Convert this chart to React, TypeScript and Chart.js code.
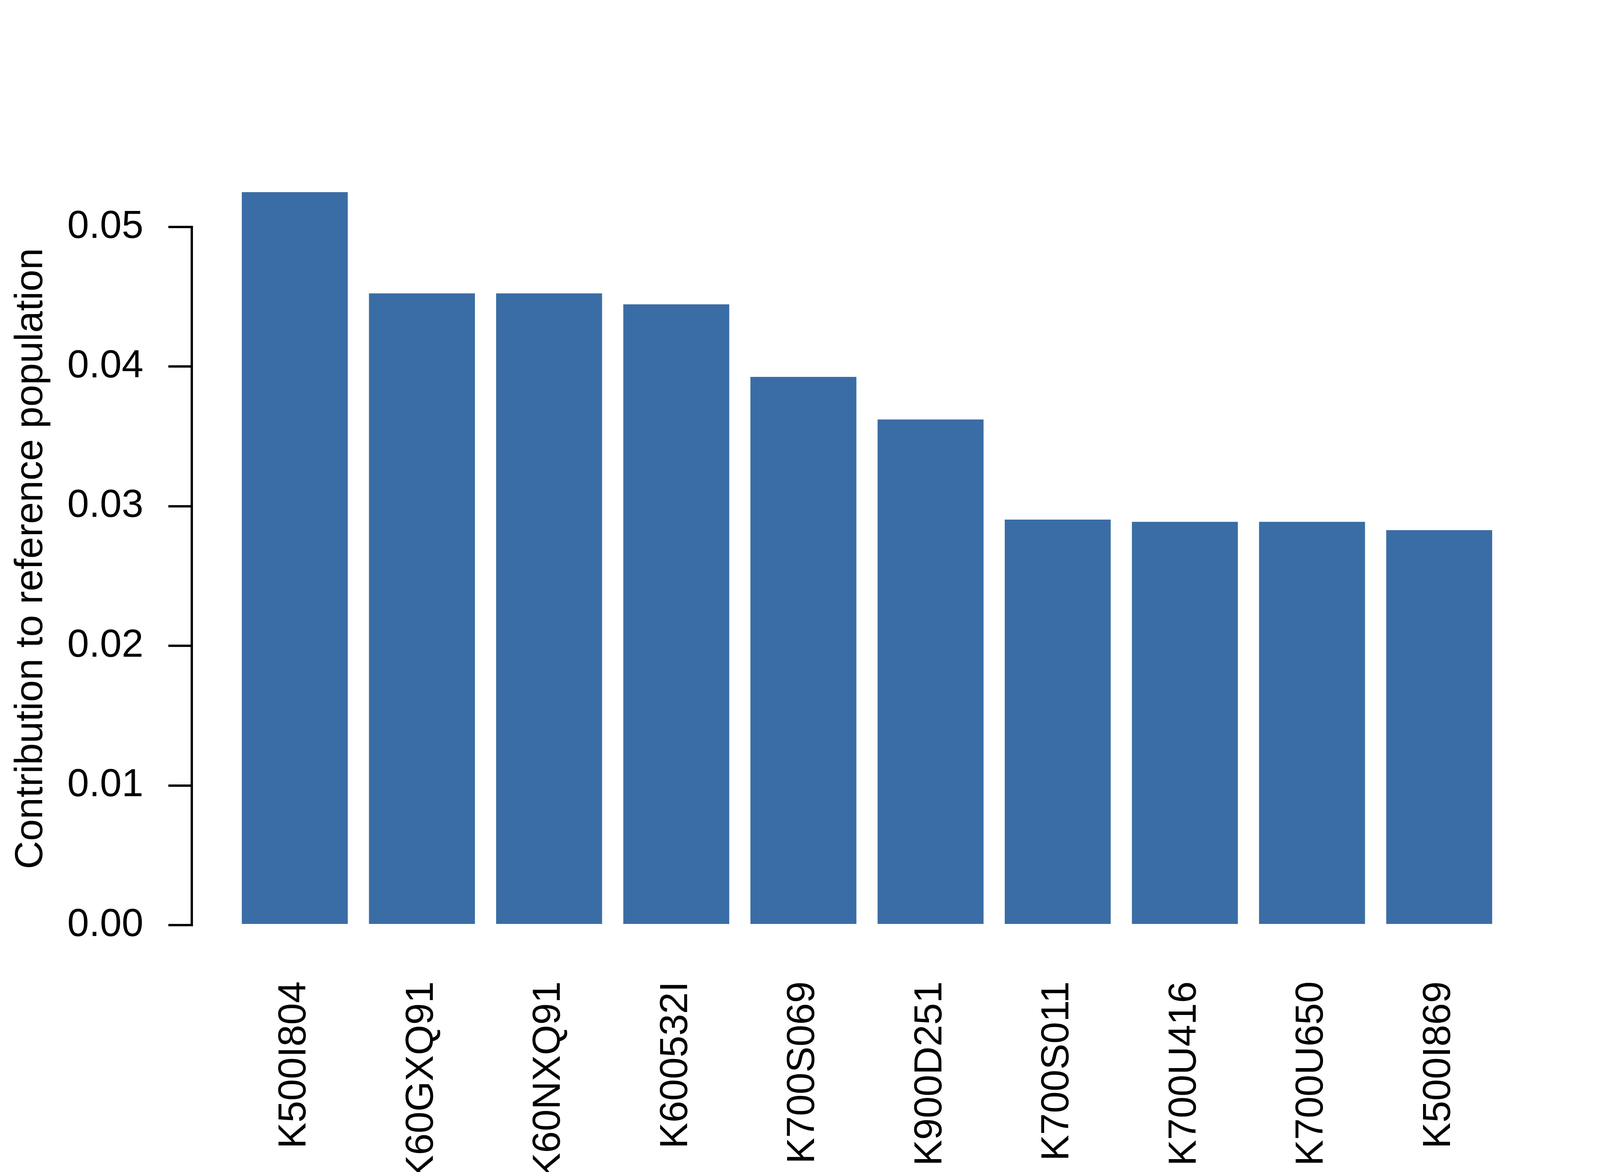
import React, { useEffect, useRef } from 'react';
import { Chart, registerables } from 'chart.js';

Chart.register(...registerables);

// ---- data ----
const categories = [
  'K500I804',
  'K60GXQ91',
  'K60NXQ91',
  'K600532I',
  'K700S069',
  'K900D251',
  'K700S011',
  'K700U416',
  'K700U650',
  'K500I869',
];
const contributions = [0.0525, 0.04524, 0.04524, 0.04446, 0.03926, 0.03621, 0.02904, 0.02888, 0.02888, 0.02829];
const yTickValues = [0, 0.01, 0.02, 0.03, 0.04, 0.05];
const yTickLabels = ['0.00', '0.01', '0.02', '0.03', '0.04', '0.05'];
const yAxisTitle = 'Contribution to reference population';

// R barplot geometry (bar width 1, space 0.2), 4% axis extension
const BAR_W = 1;
const BAR_SPACE = 0.2;
const center = (i: number) => BAR_SPACE + i * (BAR_W + BAR_SPACE) + BAR_W / 2;
const xLo = BAR_SPACE;
const xHi = categories.length * (BAR_W + BAR_SPACE);
const xExt = 0.04 * (xHi - xLo);

const FONT_FAMILY = '"Liberation Sans", Arial, Helvetica, sans-serif';
const FONT_SIZE = 100;
const BAR_COLOR = '#3A6DA5';

// y-axis title centred on the R plot region (ylim = [0, max] extended 4%)
const yTitlePlugin = {
  id: 'rYTitle',
  afterDraw(chart: any) {
    const y = chart.scales.y;
    const ymax = Math.max(...contributions);
    const cy = y.getPixelForValue(ymax / 2);
    const ctx = chart.ctx;
    ctx.save();
    ctx.translate(108, cy);
    ctx.rotate(-Math.PI / 2);
    ctx.font = `${FONT_SIZE}px ${FONT_FAMILY}`;
    ctx.fillStyle = '#000';
    ctx.textAlign = 'center';
    ctx.textBaseline = 'alphabetic';
    ctx.fillText(yAxisTitle, 0, 0);
    ctx.restore();
  },
};

export default function App() {
  const ref = useRef<HTMLCanvasElement | null>(null);

  useEffect(() => {
    document.body.style.margin = '0';
    const canvas = ref.current;
    if (!canvas) return;
    const chart = new Chart(canvas, {
      type: 'bar',
      data: {
        datasets: [
          {
            data: contributions.map((v, i) => ({ x: center(i), y: v })),
            backgroundColor: BAR_COLOR,
            borderWidth: 0,
            categoryPercentage: 1,
            barPercentage: BAR_W / (BAR_W + BAR_SPACE),
            clip: false as any,
          } as any,
        ],
      },
      plugins: [yTitlePlugin],
      options: {
        animation: false,
        responsive: false,
        devicePixelRatio: 1,
        layout: { padding: { top: 581, right: 252, left: 0, bottom: 0 } },
        plugins: {
          legend: { display: false },
          tooltip: { enabled: false },
          title: { display: false },
        },
        scales: {
          x: {
            type: 'linear',
            offset: false,
            min: xLo - xExt,
            max: xHi + xExt,
            bounds: 'data',
            afterBuildTicks: (s: any) => {
              s.ticks = categories.map((_, i) => ({ value: center(i) }));
            },
            afterFit: (s: any) => {
              s.height = 632;
            },
            grid: { display: false, drawTicks: false, offset: false },
            border: { display: false },
            ticks: {
              autoSkip: false,
              minRotation: 90,
              maxRotation: 90,
              padding: 144,
              color: '#000',
              font: { family: FONT_FAMILY, size: FONT_SIZE },
              callback: (_v: any, i: number) => categories[i],
            },
          },
          y: {
            type: 'linear',
            min: 0,
            max: 0.05,
            afterBuildTicks: (s: any) => {
              s.ticks = yTickValues.map((v) => ({ value: v }));
            },
            afterFit: (s: any) => {
              s.width = 491;
            },
            grid: {
              drawOnChartArea: false,
              drawTicks: true,
              tickLength: 60,
              color: '#000',
              lineWidth: 6,
            },
            border: { display: true, color: '#000', width: 6 },
            ticks: {
              padding: 64,
              color: '#000',
              font: { family: FONT_FAMILY, size: FONT_SIZE },
              callback: (_v: any, i: number) => yTickLabels[i],
            },
            title: { display: false },
          },
        },
      } as any,
    });
    return () => chart.destroy();
  }, []);

  return (
    <div style={{ width: 4200, height: 3000, background: '#fff' }}>
      <canvas ref={ref} width={4200} height={3000} style={{ display: 'block', width: 4200, height: 3000 }} />
    </div>
  );
}
